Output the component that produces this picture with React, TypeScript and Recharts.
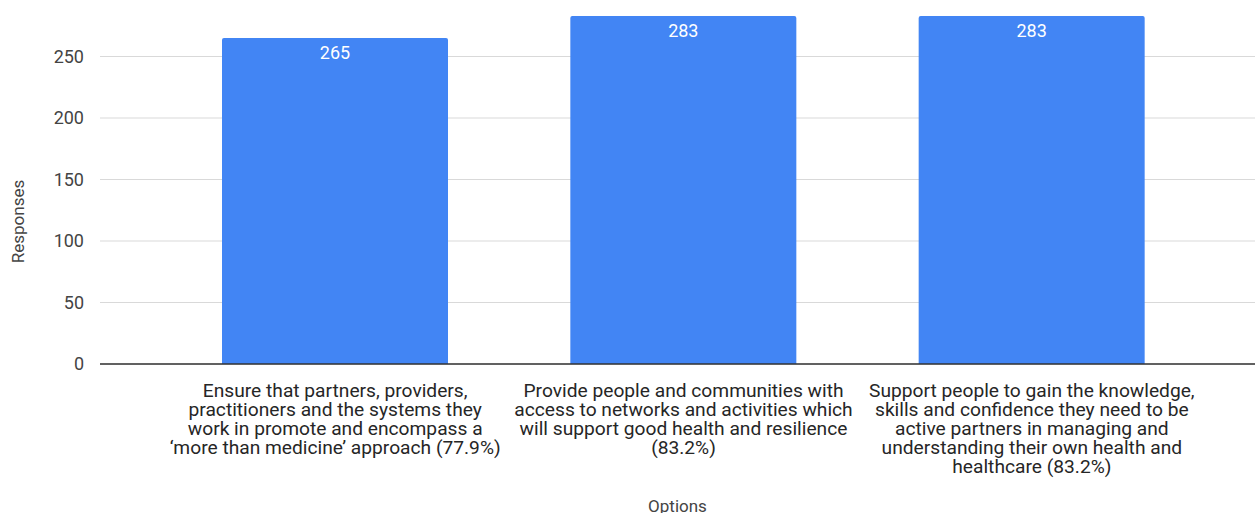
import React from 'react'
import { BarChart, Bar, XAxis, YAxis, CartesianGrid, LabelList, Label } from 'recharts'

const categories = ['ensure', 'provide', 'support']
const responses = [265, 283, 283]
const categoryLines = [
  [
    'Ensure that partners, providers,',
    'practitioners and the systems they',
    'work in promote and encompass a',
    '\u2018more than medicine\u2019 approach (77.9%)',
  ],
  [
    'Provide people and communities with',
    'access to networks and activities which',
    'will support good health and resilience',
    '(83.2%)',
  ],
  [
    'Support people to gain the knowledge,',
    'skills and confidence they need to be',
    'active partners in managing and',
    'understanding their own health and',
    'healthcare (83.2%)',
  ],
]
const yTicks = [0, 50, 100, 150, 200, 250]

const data = categories.map((key, i) => ({ key, value: responses[i] }))

const FONT = 'Roboto, sans-serif'

function CategoryTick(props: any) {
  const { x, y, index } = props
  const lines = categoryLines[index] || []
  return (
    <g transform={`translate(${x},${y})`}>
      <text textAnchor="middle" fill="#262626" fontSize={19.2} fontFamily={FONT}>
        {lines.map((line, i) => (
          <tspan key={i} x={0} y={25 + i * 19}>
            {line}
          </tspan>
        ))}
      </text>
    </g>
  )
}

function YTitle(props: any) {
  const vb = props.viewBox || { x: 0, y: 0, width: 0, height: 0 }
  const cx = 18
  const cy = vb.y + vb.height / 2 + 42
  return (
    <text
      x={cx}
      y={cy}
      transform={`rotate(-90, ${cx}, ${cy})`}
      textAnchor="middle"
      dominantBaseline="central"
      fill="#444"
      fontSize={17}
      fontFamily={FONT}
    >
      Responses
    </text>
  )
}

export default function App() {
  return (
    <div style={{ position: 'absolute', left: 0, top: 0, width: 1255, height: 513, background: '#fff', overflow: 'hidden' }}>
      <BarChart
        width={1255}
        height={513}
        data={data}
        margin={{ top: -5, right: 0, left: 0, bottom: 0 }}
        barCategoryGap={61}
      >
        <CartesianGrid vertical={false} stroke="#d9d9d9" strokeWidth={1} />
        <XAxis
          dataKey="key"
          tick={<CategoryTick />}
          tickLine={false}
          axisLine={{ stroke: '#333', strokeWidth: 1.5 }}
          interval={0}
          padding={{ left: 61, right: 49 }}
          height={149}
        >
          <Label value="Options" position="insideBottom" offset={1} fill="#444" fontSize={17} fontFamily={FONT} />
        </XAxis>
        <YAxis
          domain={[0, 300]}
          ticks={yTicks}
          width={100}
          tickLine={false}
          axisLine={false}
          tickMargin={10}
          tick={{ fill: '#444', fontSize: 18, fontFamily: FONT }}
        >
          <Label content={<YTitle />} />
        </YAxis>
        <Bar dataKey="value" fill="#4285f4" radius={[2, 2, 0, 0]} isAnimationActive={false}>
          <LabelList dataKey="value" position="insideTop" offset={8} fill="#fff" fontSize={18} fontFamily={FONT} />
        </Bar>
      </BarChart>
    </div>
  )
}
